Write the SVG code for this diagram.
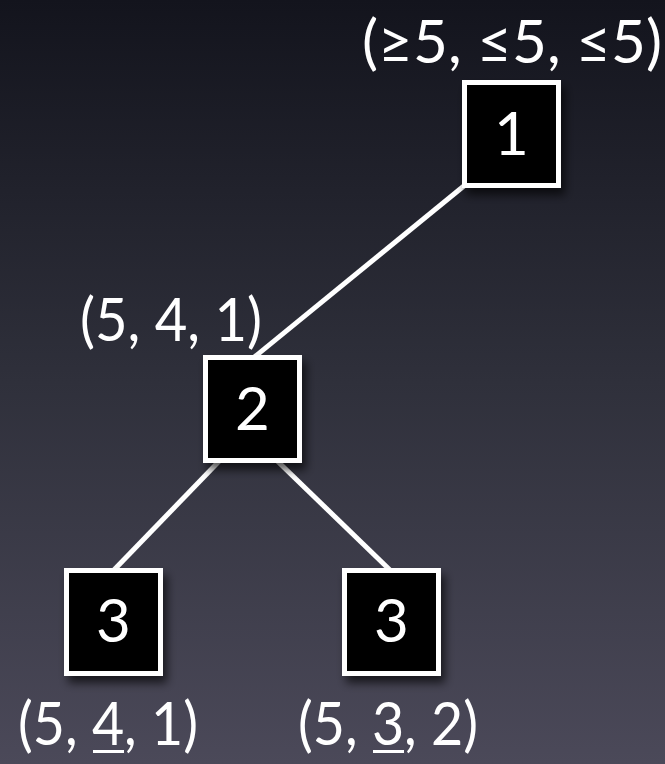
<svg xmlns="http://www.w3.org/2000/svg" width="665" height="764" viewBox="0 0 665 764">
  <defs>
    <linearGradient id="bg" x1="0" y1="0" x2="0" y2="1">
      <stop offset="0" stop-color="#13141d"/>
      <stop offset="0.5" stop-color="#2f303b"/>
      <stop offset="1" stop-color="#4b4959"/>
    </linearGradient>
    <filter id="shadow" x="-30%" y="-30%" width="160%" height="160%">
      <feDropShadow dx="4" dy="7" stdDeviation="5" flood-color="#000" flood-opacity="0.65"/>
    </filter>
  </defs>
  <style>
    .box { fill: #000; stroke: #fff; stroke-width: 5; }
    .edge { stroke: #fff; stroke-width: 5; fill: none; }
    .num { fill: #fff; font-family: Lato, "Open Sans", sans-serif; font-size: 60px; text-anchor: middle; }
    .lbl { fill: #fff; font-family: Lato, "Open Sans", sans-serif; font-size: 60px; }
    .ul { stroke: #fff; stroke-width: 3; }
  </style>

  <rect width="665" height="764" fill="url(#bg)"/>

  <!-- tree edges -->
  <g id="edges">
    <line class="edge" x1="470" y1="181" x2="252" y2="359"/>
    <line class="edge" x1="228" y1="452" x2="112" y2="572"/>
    <line class="edge" x1="268" y1="452" x2="392" y2="572"/>
  </g>

  <g id="node1">
    <rect class="box" x="464.5" y="82.5" width="94" height="103" filter="url(#shadow)"/>
    <text class="num" x="511.5" y="155">1</text>
    <text class="lbl" x="362" y="63" textLength="300" lengthAdjust="spacingAndGlyphs">(≥5, ≤5, ≤5)</text>
  </g>

  <g id="node2">
    <rect class="box" x="205.5" y="357.5" width="94" height="103" filter="url(#shadow)"/>
    <text class="num" x="252.5" y="430">2</text>
    <text class="lbl" x="80" y="341" textLength="182" lengthAdjust="spacingAndGlyphs">(5, 4, 1)</text>
  </g>

  <g id="node3a">
    <rect class="box" x="66.5" y="570.5" width="94" height="103" filter="url(#shadow)"/>
    <text class="num" x="113.5" y="642">3</text>
    <text class="lbl" x="18" y="745" textLength="180" lengthAdjust="spacingAndGlyphs">(5, 4, 1)</text>
    <!-- underline under the middle component -->
    <line class="ul" x1="93" y1="751.5" x2="124" y2="751.5"/>
  </g>

  <g id="node3b">
    <rect class="box" x="344.5" y="570.5" width="94" height="103" filter="url(#shadow)"/>
    <text class="num" x="391.5" y="642">3</text>
    <text class="lbl" x="298" y="745" textLength="180" lengthAdjust="spacingAndGlyphs">(5, 3, 2)</text>
    <!-- underline under the middle component -->
    <line class="ul" x1="373" y1="751.5" x2="404" y2="751.5"/>
  </g>
</svg>
